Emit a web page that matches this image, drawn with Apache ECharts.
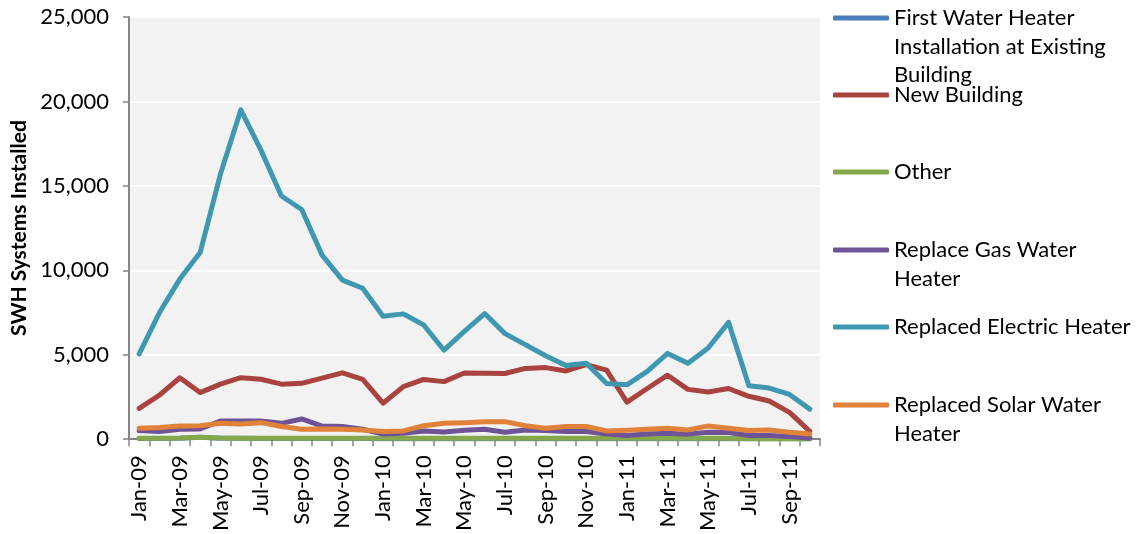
<!DOCTYPE html>
<html>
<head>
<meta charset="utf-8">
<title>SWH Systems Installed</title>
<script src="https://cdn.jsdelivr.net/npm/echarts@6/dist/echarts.min.js"></script>
<style>
  html, body { margin: 0; padding: 0; background: #ffffff; }
  #chart { width: 1137px; height: 534px; }
</style>
</head>
<body>
<div id="chart"></div>
<script>
// Monthly categories, Jan-09 .. Oct-11
const months = [
  'Jan-09','Feb-09','Mar-09','Apr-09','May-09','Jun-09','Jul-09','Aug-09','Sep-09','Oct-09','Nov-09','Dec-09',
  'Jan-10','Feb-10','Mar-10','Apr-10','May-10','Jun-10','Jul-10','Aug-10','Sep-10','Oct-10','Nov-10','Dec-10',
  'Jan-11','Feb-11','Mar-11','Apr-11','May-11','Jun-11','Jul-11','Aug-11','Sep-11','Oct-11'
];

const firstWaterHeater = [
  40, 40, 50, 110, 60, 50, 40, 40, 40, 40, 40, 40,
  30, 30, 30, 30, 30, 30, 30, 30, 30, 30, 30, 30,
  30, 30, 30, 30, 30, 30, 20, 20, 20, 20
];
const newBuilding = [
  1830, 2610, 3640, 2760, 3260, 3640, 3550, 3260, 3310, 3620, 3930, 3540,
  2130, 3110, 3540, 3410, 3920, 3910, 3890, 4190, 4240, 4040, 4420, 4090,
  2200, 3000, 3790, 2950, 2790, 3000, 2540, 2260, 1590, 460
];
const other = [
  60, 60, 70, 110, 70, 60, 60, 60, 60, 60, 60, 60,
  50, 50, 50, 50, 50, 60, 60, 60, 60, 60, 60, 60,
  50, 50, 50, 50, 50, 50, 30, 20, 20, 20
];
const replaceGas = [
  510, 450, 590, 610, 1080, 1080, 1080, 940, 1200, 780, 750, 590,
  310, 350, 490, 430, 530, 590, 410, 550, 510, 450, 450, 310,
  220, 310, 350, 300, 410, 400, 220, 220, 160, 60
];
const replacedElectric = [
  5050, 7500, 9480, 11050, 15700, 19500, 17100, 14400, 13600, 10900, 9420, 8940,
  7280, 7420, 6760, 5270, 6380, 7440, 6250, 5600, 4940, 4360, 4500, 3300,
  3220, 4020, 5080, 4500, 5400, 6920, 3170, 3030, 2650, 1780
];
const replacedSolar = [
  650, 690, 780, 800, 940, 900, 980, 750, 590, 610, 590, 550,
  450, 490, 800, 940, 980, 1040, 1040, 800, 650, 750, 750, 490,
  530, 590, 650, 550, 780, 650, 510, 550, 410, 310
];

const yTicks = [0, 5000, 10000, 15000, 20000, 25000];

const seriesDefs = [
  { name: 'First Water Heater\nInstallation at Existing\nBuilding', data: firstWaterHeater, color: '#4a7ebb' },
  { name: 'New Building', data: newBuilding, color: '#a84340' },
  { name: 'Other', data: other, color: '#86a84c' },
  { name: 'Replace Gas Water\nHeater', data: replaceGas, color: '#6e5496' },
  { name: 'Replaced Electric Heater', data: replacedElectric, color: '#3f98b0' },
  { name: 'Replaced Solar Water\nHeater', data: replacedSolar, color: '#e0823a' }
];

const FONT = 'Lato, "Liberation Sans", sans-serif';
const LEGEND_FONT = 22;
const LINE_H = 28.5;
const legendCenters = [18, 95, 172, 250, 327, 405];

// One legend block per series; blank leading lines keep the icon level
// with the first line of a wrapped label.
const legends = seriesDefs.map((s, i) => {
  const n = s.name.split('\n').length;
  return {
    data: [{ name: s.name, icon: 'roundRect' }],
    orient: 'vertical',
    left: 833,
    top: legendCenters[i] - (2 * n - 1) * LINE_H / 2,
    padding: 0,
    itemWidth: 56,
    itemHeight: 5,
    itemGap: 0,
    selectedMode: false,
    formatter: name => '\n'.repeat(n - 1) + name,
    textStyle: {
      fontFamily: FONT,
      fontSize: LEGEND_FONT,
      color: '#000',
      lineHeight: LINE_H
    }
  };
});

const chart = echarts.init(document.getElementById('chart'), null, { renderer: 'canvas' });
chart.setOption({
  animation: false,
  backgroundColor: '#ffffff',
  grid: {
    left: 129, right: 317, top: 17, bottom: 92,
    show: true, backgroundColor: '#f2f2f2', borderWidth: 0,
    containLabel: false
  },
  legend: legends,
  xAxis: {
    type: 'category',
    data: months,
    boundaryGap: true,
    axisLine: { lineStyle: { color: '#868686', width: 2 } },
    axisTick: { show: true, interval: 0, length: 7, lineStyle: { color: '#868686', width: 1.5 } },
    axisLabel: {
      interval: 1,
      rotate: 90,
      margin: 16,
      fontFamily: FONT,
      fontSize: 22,
      color: '#000'
    },
    splitLine: { show: false }
  },
  yAxis: {
    type: 'value',
    min: yTicks[0],
    max: yTicks[yTicks.length - 1],
    interval: 5000,
    name: 'SWH Systems Installed',
    nameLocation: 'middle',
    nameGap: 99,
    nameTextStyle: { fontFamily: FONT, fontSize: 21, fontWeight: 'bold', color: '#000' },
    axisLine: { show: true, lineStyle: { color: '#868686', width: 2 } },
    axisTick: { show: true, inside: false, length: 6, lineStyle: { color: '#868686', width: 1.5 } },
    axisLabel: {
      margin: 20,
      fontFamily: FONT,
      fontSize: 22,
      color: '#000',
      formatter: v => v.toLocaleString('en-US')
    },
    splitLine: { show: true, lineStyle: { color: '#ffffff', width: 2 } }
  },
  series: seriesDefs.map(s => ({
    name: s.name,
    type: 'line',
    data: s.data,
    symbol: 'none',
    smooth: false,
    color: s.color,
    lineStyle: { color: s.color, width: 5, cap: 'round', join: 'round' },
    emphasis: { disabled: true }
  }))
});
</script>
</body>
</html>
